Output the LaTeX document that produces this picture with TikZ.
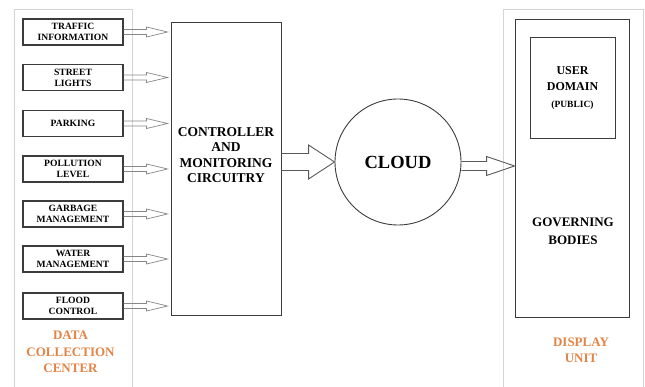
\documentclass[tikz,border=0pt]{standalone}
\usepackage{fontspec}
\setmainfont{Liberation Serif}
\usepackage{tikz}
\usetikzlibrary{calc}
\usepackage{xcolor}

\definecolor{panelgray}{RGB}{212,212,212}
\definecolor{boxgray}{RGB}{60,60,60}
\definecolor{arrowgray}{RGB}{135,135,135}
\definecolor{labelorange}{RGB}{226,132,70}

\tikzset{
  sensor/.style={draw=boxgray, line width=1.1pt, minimum width=100pt,
    minimum height=26pt, inner sep=0pt, align=center, text=black,
    font=\fontsize{9.6}{11}\selectfont\bfseries},
  block/.style={draw=boxgray, line width=0.9pt, inner sep=0pt},
  bold/.style={align=center, inner sep=0pt, text=black},
  group/.style={align=center, inner sep=0pt, text=labelorange,
    font=\fontsize{13}{16.5}\selectfont\bfseries},
  thin/.style={draw=arrowgray, line width=0.7pt},
  thick/.style={draw=boxgray!85, line width=0.9pt}
}

% seta larga: estilo, origem, destino, meia haste, meia ponta, comprimento da ponta
\newcommand{\fatarrow}[6]{%
  \draw[#1] let \p1=(#2), \p2=(#3) in
    (\x1,\y1+#4) -- (\x2-#6,\y1+#4) -- (\x2-#6,\y1+#5) -- (\x2,\y1)
    -- (\x2-#6,\y1-#5) -- (\x2-#6,\y1-#4) -- (\x1,\y1-#4);}

\begin{document}
\begin{tikzpicture}[x=1pt, y=-1pt]
    \useasboundingbox (0,0) rectangle (645,387);

    % Painéis de fundo (abertos embaixo)
    \draw[panelgray, line width=0.8pt] (14,387) -- (14,9) -- (132,9) -- (132,387);
    \draw[panelgray, line width=0.8pt] (503,387) -- (503,9) -- (643,9) -- (643,387);

    % Fontes de dados
    \node[sensor] (traffic) at (73,32) {TRAFFIC\\INFORMATION};
    \node[sensor] (lights) at (73,77.5) {STREET\\LIGHTS};
    \node[sensor] (parking) at (73,123.5) {PARKING};
    \node[sensor] (pollution) at (73,169) {POLLUTION\\LEVEL};
    \node[sensor] (garbage) at (73,214) {GARBAGE\\MANAGEMENT};
    \node[sensor] (water) at (73,259) {WATER\\MANAGEMENT};
    \node[sensor] (flood) at (73,306) {FLOOD\\CONTROL};
    \node[group] (dcc) at (70.5,352) {DATA\\COLLECTION\\CENTER};

    % Controlador
    \node[block, minimum width=110pt, minimum height=293pt] (ctrl) at (226,168.5) {};
    \node[bold, font=\fontsize{13.5}{15.5}\selectfont\bfseries] (ctrltext) at (226,155)
        {CONTROLLER\\AND\\MONITORING\\CIRCUITRY};

    % Nuvem
    \node[block, circle, minimum size=126pt, text=black] (cloud) at (398,162)
        {\fontsize{18.5}{20}\selectfont\bfseries CLOUD};

    % Unidade de exibição
    \node[block, minimum width=114pt, minimum height=298pt] (disp) at (572,168) {};
    \node[block, minimum width=85pt, minimum height=101pt, align=center,
        text=black, font=\fontsize{12}{13}\selectfont\bfseries] (user) at (572.5,88)
        {USER\\[3.5pt] DOMAIN\\[3.5pt] {\fontsize{9.5}{11}\selectfont (PUBLIC)}};
    \node[bold, font=\fontsize{13}{18}\selectfont\bfseries] (gov) at (573,231)
        {GOVERNING\\BODIES};
    \node[group] (unit) at (581,350.5) {DISPLAY\\UNIT};

    % Setas das fontes ao controlador
    \fatarrow{thin}{traffic.east}{$(traffic.east -| ctrl.west)+(-3,0)$}{2.5pt}{5pt}{21pt}
    \fatarrow{thin}{lights.east}{$(lights.east -| ctrl.west)+(-3,0)$}{2.5pt}{5pt}{21pt}
    \fatarrow{thin}{parking.east}{$(parking.east -| ctrl.west)+(-3,0)$}{2.5pt}{5pt}{21pt}
    \fatarrow{thin}{pollution.east}{$(pollution.east -| ctrl.west)+(-3,0)$}{2.5pt}{5pt}{21pt}
    \fatarrow{thin}{garbage.east}{$(garbage.east -| ctrl.west)+(-3,0)$}{2.5pt}{5pt}{21pt}
    \fatarrow{thin}{water.east}{$(water.east -| ctrl.west)+(-3,0)$}{2.5pt}{5pt}{21pt}
    \fatarrow{thin}{flood.east}{$(flood.east -| ctrl.west)+(-3,0)$}{2.5pt}{5pt}{21pt}

    % Controlador -> nuvem -> exibição
    \fatarrow{thick}{ctrl.east |- cloud.west}{cloud.west}{8.5pt}{17pt}{26pt}
    \fatarrow{thick}{$(cloud.east)+(0,4)$}{$(cloud.east -| disp.west)+(0,4)$}{4.5pt}{9.5pt}{28pt}
\end{tikzpicture}
\end{document}
